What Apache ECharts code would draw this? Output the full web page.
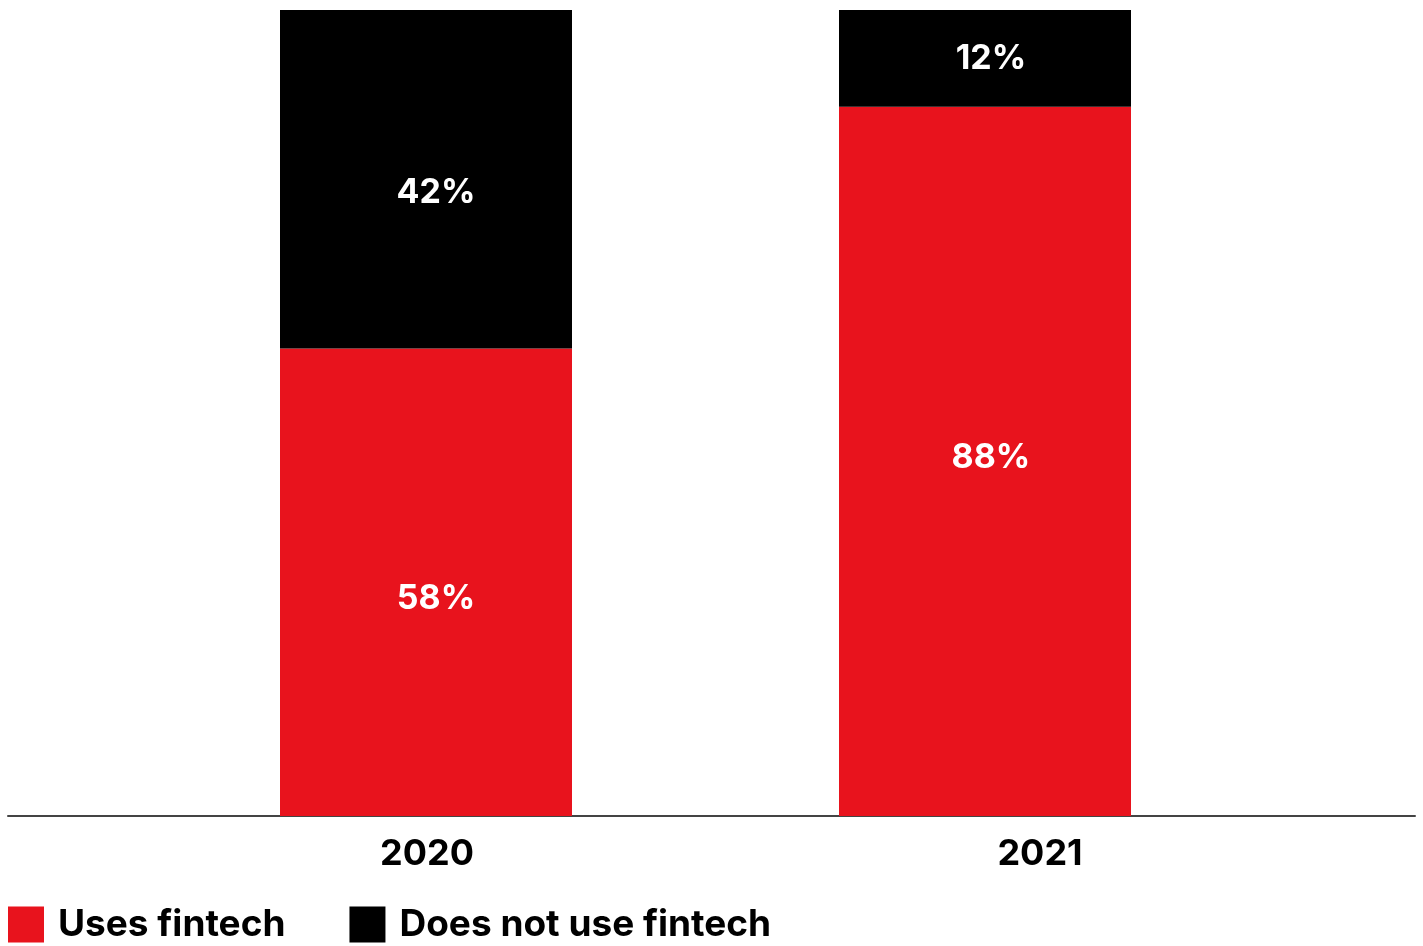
<!DOCTYPE html>
<html>
<head>
<meta charset="utf-8">
<script src="https://cdn.jsdelivr.net/npm/echarts@6/dist/echarts.min.js"></script>
<style>
html,body{margin:0;padding:0;background:#fff;}
#chart{width:1423px;height:946px;}
</style>
</head>
<body>
<div id="chart"></div>
<script>
const categories = ['2020', '2021'];
const usesFintech = [58, 88];
const doesNotUse = [42, 12];
const seriesNames = ['Uses fintech', 'Does not use fintech'];

const RED = '#E8131D';
const BLACK = '#000000';
const FONT = 'Inter, "Noto Sans", sans-serif';

const chart = echarts.init(document.getElementById('chart'));

function pctLabel() {
  return {
    show: true,
    position: 'inside',
    color: '#fff',
    fontFamily: FONT,
    fontWeight: 'bold',
    fontSize: 34,
    formatter: p => p.value + '%'
  };
}

const redOffsets = [[10, 17], [6, -4]];
const blackOffsets = [[10, 14], [6, 0]];

chart.setOption({
  animation: false,
  backgroundColor: '#fff',
  grid: [
    { left: 146.5, width: 1118, top: 10, bottom: 130 },
    { left: 8, right: 8, top: 10, bottom: 130 }
  ],
  legend: {
    data: seriesNames,
    left: 3,
    top: 901,
    icon: 'rect',
    itemWidth: 36,
    itemHeight: 36,
    itemGap: 64,
    textStyle: {
      fontFamily: FONT,
      fontWeight: 'bold',
      fontSize: 37,
      color: '#000',
      padding: [0, 0, 0, 9]
    }
  },
  xAxis: [
    {
      type: 'category',
      gridIndex: 0,
      data: categories,
      axisLine: { show: false },
      axisTick: { show: false },
      axisLabel: {
        margin: 20,
        formatter: (v, i) => i === 1 ? '{b|' + v + '}' : '{a|' + v + '}',
        rich: {
          a: { fontFamily: FONT, fontWeight: 'bold', fontSize: 36, color: '#000', padding: [0, 0, 0, 2] },
          b: { fontFamily: FONT, fontWeight: 'bold', fontSize: 36, color: '#000', padding: [0, 0, 0, 110] }
        }
      }
    },
    {
      type: 'category',
      gridIndex: 1,
      data: categories,
      axisLine: { show: true, lineStyle: { color: '#444', width: 2 } },
      axisTick: { show: false },
      axisLabel: { show: false }
    }
  ],
  yAxis: [
    { type: 'value', gridIndex: 0, min: 0, max: 100, show: false },
    { type: 'value', gridIndex: 1, min: 0, max: 100, show: false }
  ],
  series: [
    {
      name: seriesNames[0],
      type: 'bar',
      stack: 'total',
      barWidth: 292,
      itemStyle: { color: RED },
      data: usesFintech.map((v, i) => ({ value: v, label: { offset: redOffsets[i] } })),
      label: pctLabel()
    },
    {
      name: seriesNames[1],
      type: 'bar',
      stack: 'total',
      barWidth: 292,
      itemStyle: { color: BLACK },
      data: doesNotUse.map((v, i) => ({ value: v, label: { offset: blackOffsets[i] } })),
      label: pctLabel()
    }
  ]
});
</script>
</body>
</html>
